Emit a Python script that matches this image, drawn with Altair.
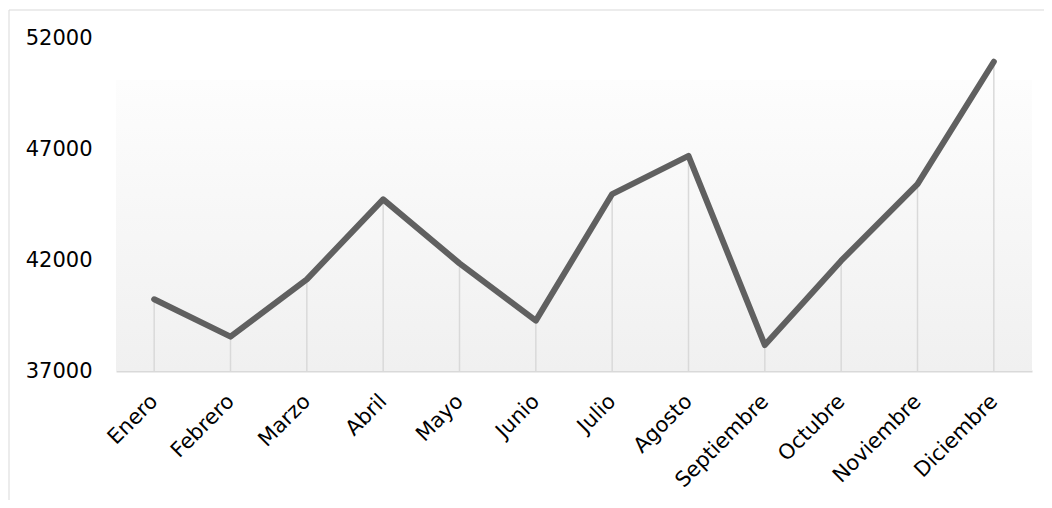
import altair as alt
import pandas as pd

meses = ["Enero", "Febrero", "Marzo", "Abril", "Mayo", "Junio", "Julio",
         "Agosto", "Septiembre", "Octubre", "Noviembre", "Diciembre"]
valores = [40230, 38550, 41130, 44730, 41850, 39270, 44970, 46690,
           38170, 41970, 45420, 50930]
y_ticks = [37000, 42000, 47000, 52000]

df = pd.DataFrame({"mes": meses, "valor": valores})

W, H = 916, 333
FONT = "DejaVu Sans"

x_enc = alt.X("mes:O", sort=meses, title=None,
              scale=alt.Scale(type="point", padding=0.5),
              axis=alt.Axis(labelAngle=-45, labelAlign="right", labelBaseline="middle",
                            labelFontSize=21, labelFont=FONT, labelColor="#000000",
                            labelPadding=27, ticks=False, domain=True,
                            domainColor="#d9d9d9", domainWidth=2, grid=False))
y_scale = alt.Scale(domain=[37000, 52000], nice=False, zero=False)
y_enc = alt.Y("valor:Q", scale=y_scale, title=None,
              axis=alt.Axis(values=y_ticks, format="d", grid=False, domain=False,
                            ticks=False, labelFontSize=21, labelFont=FONT,
                            labelColor="#000000", labelPadding=24))

bg_data = alt.Data(values=[{"k": 1}])

border = alt.Chart(bg_data).mark_rect(fill="transparent", stroke="#d9d9d9",
                                      strokeWidth=1).encode(
    x=alt.value(-107), x2=alt.value(W + 40),
    y=alt.value(-28), y2=alt.value(H + 300))

background = alt.Chart(bg_data).mark_rect(
    fill=alt.Gradient(gradient="linear",
                      stops=[alt.GradientStop(color="#fdfdfd", offset=0),
                             alt.GradientStop(color="#f0f0f0", offset=1)],
                      x1=0, x2=0, y1=0, y2=1)).encode(
    x=alt.value(0), x2=alt.value("width"),
    y=alt.value(42), y2=alt.value("height"))

base = alt.Chart(df)

drops = base.mark_rule(color="#d9d9d9", strokeWidth=1.5).encode(
    x=x_enc, y=y_enc, y2=alt.datum(37000))

line = base.mark_line(color="#606060", strokeWidth=6, strokeCap="round",
                      strokeJoin="round").encode(x=x_enc, y=y_enc)

chart = alt.layer(border, background, drops, line).properties(
    width=W, height=H,
    autosize=alt.AutoSizeParams(type="none"),
    padding={"left": 108, "top": 30, "right": 12, "bottom": 129},
).configure(background="#ffffff", view=alt.ViewConfig(stroke=None))

chart.save("out.html", embed_options={"renderer": "svg", "actions": False})
